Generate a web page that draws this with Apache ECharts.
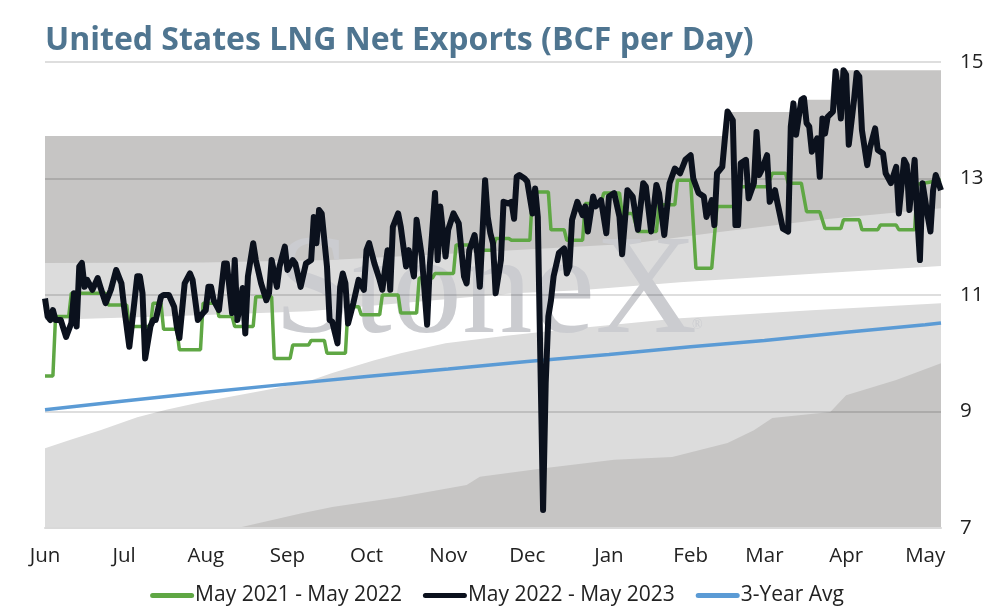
<!DOCTYPE html>
<html>
<head>
<meta charset="utf-8">
<script src="https://cdn.jsdelivr.net/npm/echarts@6/dist/echarts.min.js"></script>
<style>
  html, body { margin: 0; padding: 0; background: #fff; }
  #chart { width: 994px; height: 613px; }
</style>
</head>
<body>
<div id="chart"></div>
<script>
// x = day number counted from 1 Jun
var monthDays = [0, 30, 61, 92, 122, 153, 183, 214, 245, 273, 304, 334]
var monthNames = ['Jun', 'Jul', 'Aug', 'Sep', 'Oct', 'Nov', 'Dec', 'Jan', 'Feb', 'Mar', 'Apr', 'May']
var yTicks = [7, 9, 11, 13, 15]

// shaded ranges (upper and lower bands)
var upperBandTop = [[0, 13.73], [257, 13.73], [258, 14.14], [287, 14.14], [288, 14.35], [298, 14.35], [299, 14.86], [340, 14.86]]
var upperBandMid = [[0, 11.55], [60, 11.56], [108, 11.6], [150, 11.7], [222, 11.88], [256, 12.08], [294, 12.29], [340, 12.49]]
var upperBandLow = [[0, 10.57], [50, 10.64], [100, 10.72], [140, 10.88], [178, 11.03], [203, 11.08], [241, 11.22], [290, 11.36], [340, 11.5]]
var lowerBandTop = [[0, 8.37], [10, 8.52], [21, 8.68], [35, 8.9], [46, 9.03], [59, 9.16], [84, 9.37], [100, 9.52], [109, 9.66], [125, 9.88], [135, 10.0], [152, 10.17], [175, 10.3], [200, 10.42], [241, 10.6], [291, 10.74], [340, 10.86]]
var lowerBandMid = [[0, 7.0], [73, 7.0], [97, 7.25], [109, 7.36], [134, 7.53], [160, 7.74], [165, 7.88], [190, 8.03], [216, 8.17], [238, 8.22], [259, 8.46], [269, 8.68], [276, 8.89], [298, 8.99], [304, 9.28], [323, 9.54], [340, 9.83]]

var avg3yr = [[0, 9.03], [30, 9.18], [61, 9.33], [92, 9.47], [122, 9.6], [153, 9.73], [183, 9.86], [214, 9.98], [245, 10.11], [273, 10.22], [304, 10.36], [334, 10.49], [340, 10.52]]

var season2122 = [
  [0, 9.61], [3, 9.61], [4, 10.63], [9, 10.63], [10, 11.03], [23, 11.03], [24, 10.83], [31, 10.83], [32, 10.46],
  [40, 10.46], [41, 10.86], [44, 10.86], [45, 10.41], [50, 10.41], [51, 10.06], [59, 10.06], [60, 10.86], [65, 10.86],
  [66, 10.63], [71, 10.63], [72, 10.46], [79, 10.46], [80, 10.97], [86, 10.97], [87, 9.91], [93, 9.91], [94, 10.14],
  [100, 10.14], [101, 10.22], [106, 10.22], [107, 10.0], [114, 10.0], [115, 10.8], [119, 10.8], [120, 10.66], [127, 10.66],
  [128, 11.0], [134, 11.0], [135, 10.69], [141, 10.69], [142, 11.29], [147, 11.29], [148, 11.37], [155, 11.37], [156, 11.86],
  [165, 11.86], [166, 11.77], [170, 11.77], [171, 11.97], [176, 11.97], [177, 11.94], [184, 11.94], [185, 12.77], [191, 12.77],
  [192, 12.12], [197, 12.12], [198, 11.94], [204, 11.94], [205, 12.57], [211, 12.57], [212, 12.75], [218, 12.75], [219, 12.4],
  [223, 12.4], [225, 12.09], [232, 12.09], [233, 12.55], [239, 12.55], [240, 12.97], [245, 12.97], [247, 11.46], [253, 11.46],
  [255, 12.52], [262, 12.52], [263, 12.86], [274, 12.86], [276, 13.09], [281, 13.09], [282, 12.92], [287, 12.92], [289, 12.43],
  [294, 12.43], [296, 12.14], [302, 12.14], [303, 12.29], [309, 12.29], [310, 12.12], [316, 12.12], [317, 12.2], [323, 12.2],
  [324, 12.12], [330, 12.12], [331, 12.9], [340, 12.97]
]

var season2223 = [
  [0, 10.94], [1, 10.63], [2, 10.57], [3, 10.74], [4, 10.57], [6, 10.57], [8, 10.28], [10, 10.52], [11, 11.03], [12, 10.46],
  [13, 11.49], [14, 11.55], [15, 11.14], [16, 11.26], [18, 11.09], [20, 11.29], [21, 11.14], [23, 10.86], [25, 11.09],
  [27, 11.43], [29, 11.2], [30, 10.8], [32, 10.11], [35, 11.32], [36, 11.32], [37, 11.03], [38, 9.91], [40, 10.46],
  [41, 10.57], [42, 10.57], [44, 10.97], [45, 11.0], [47, 11.0], [49, 10.8], [50, 10.46], [51, 10.26], [53, 11.2],
  [55, 11.37], [56, 11.26], [58, 10.57], [60, 10.69], [61, 10.74], [62, 11.14], [63, 11.14], [64, 10.91], [66, 10.74],
  [68, 11.54], [69, 11.54], [71, 10.69], [72, 11.6], [73, 10.57], [75, 11.12], [76, 10.34], [77, 11.32], [79, 11.89],
  [80, 11.6], [82, 11.2], [84, 10.91], [85, 11.03], [86, 11.6], [88, 11.14], [89, 11.49], [91, 11.83], [92, 11.43],
  [94, 11.6], [95, 11.54], [97, 11.14], [99, 11.54], [101, 11.6], [102, 12.34], [103, 11.89], [104, 12.46], [105, 12.4],
  [107, 11.49], [108, 10.57], [109, 10.54], [111, 10.17], [112, 11.14], [113, 11.37], [114, 11.2], [115, 10.51],
  [117, 10.86], [119, 11.26], [121, 11.09], [122, 11.77], [123, 11.89], [125, 11.54], [127, 11.26], [128, 11.09],
  [130, 11.77], [131, 11.09], [132, 12.17], [134, 12.4], [135, 12.17], [137, 11.49], [138, 11.77], [140, 11.32],
  [141, 12.29], [143, 11.66], [145, 10.49], [146, 11.49], [147, 12.12], [148, 12.75], [149, 11.6], [150, 12.52],
  [152, 11.66], [153, 12.12], [155, 12.4], [157, 12.23], [159, 11.32], [160, 11.2], [161, 11.77], [163, 12.03],
  [164, 11.72], [165, 11.14], [167, 12.97], [168, 12.34], [169, 12.06], [170, 11.89], [171, 11.03], [173, 11.6],
  [174, 12.6], [176, 12.57], [177, 12.6], [178, 12.31], [179, 13.03], [180, 13.06], [182, 13.0], [183, 12.95],
  [185, 12.4], [186, 12.83], [187, 12.34], [189, 7.31], [190, 9.49], [191, 10.63], [192, 10.91], [193, 11.32],
  [195, 11.72], [197, 11.8], [198, 11.37], [199, 11.49], [200, 12.29], [202, 12.6], [204, 12.37], [205, 12.52],
  [206, 12.09], [208, 12.69], [209, 12.52], [211, 12.63], [213, 12.06], [214, 12.69], [216, 12.75], [218, 12.34],
  [219, 11.7], [221, 12.8], [223, 12.69], [225, 12.12], [227, 12.92], [228, 12.86], [230, 12.09], [232, 12.89],
  [233, 12.75], [235, 12.03], [237, 12.92], [239, 13.17], [241, 13.09], [243, 13.32], [245, 13.4], [246, 13.0],
  [248, 12.75], [250, 12.69], [251, 12.34], [253, 12.63], [254, 12.2], [255, 13.09], [257, 13.2], [258, 13.69],
  [259, 14.15], [261, 14.0], [262, 12.2], [263, 12.2], [264, 13.26], [266, 13.32], [267, 12.66], [269, 12.92],
  [270, 13.8], [271, 13.06], [272, 13.15], [274, 13.4], [275, 12.6], [277, 12.8], [278, 12.57], [280, 12.14],
  [282, 12.09], [283, 13.89], [284, 14.29], [285, 13.75], [287, 14.35], [288, 14.38], [289, 13.95], [290, 13.89],
  [291, 13.46], [293, 13.69], [294, 13.03], [295, 14.03], [296, 13.77], [297, 14.06], [299, 14.15], [300, 14.84],
  [301, 14.52], [302, 14.03], [303, 14.86], [304, 14.78], [305, 13.58], [307, 14.35], [308, 14.81], [309, 14.75],
  [310, 13.83], [312, 13.23], [313, 13.52], [315, 13.86], [316, 13.49], [318, 13.43], [319, 13.09], [321, 12.92],
  [323, 13.2], [324, 12.4], [326, 13.32], [327, 13.23], [328, 12.46], [330, 13.32], [331, 12.34], [332, 11.6],
  [333, 12.92], [335, 12.34], [336, 12.09], [337, 12.8], [338, 13.06], [340, 12.8]
]

var DARK = '#c6c5c4'
var LIGHT = '#dcdcdc'
var FONT = '"Open Sans"'
var PILL = 'path://M2.5,0H41.5A2.5,2.5,0,0,1,41.5,5H2.5A2.5,2.5,0,0,1,2.5,0Z'

function band (data, color) {
  return {
    type: 'line', data: data, symbol: 'none', silent: true, z: 1,
    lineStyle: { width: 0 },
    areaStyle: { color: color, opacity: 1, origin: 'start' }
  }
}

var chart = echarts.init(document.getElementById('chart'))
chart.setOption({
  animation: false,
  backgroundColor: '#fff',
  title: {
    text: 'United States LNG Net Exports (BCF per Day)',
    left: 40, top: 20,
    textStyle: { fontFamily: FONT, fontWeight: 700, fontSize: 32, color: '#4f7590' }
  },
  grid: { left: 45, right: 53, top: 62, bottom: 85 },
  legend: {
    data: ['May 2021 - May 2022', 'May 2022 - May 2023', '3-Year Avg'],
    bottom: 2, left: 'center',
    icon: PILL, itemWidth: 44, itemHeight: 5, itemGap: 21,
    textStyle: { fontFamily: FONT, fontSize: 21, color: '#222', padding: [0, 0, 0, -4] }
  },
  xAxis: {
    type: 'value', min: 0, max: 340, z: 4,
    axisLine: { show: true, lineStyle: { color: '#d9d9d9', width: 2 } },
    axisTick: { show: false },
    splitLine: { show: false },
    axisLabel: {
      customValues: monthDays,
      margin: 18,
      fontFamily: FONT, fontSize: 20.5, color: '#222',
      formatter: function (v) { return monthNames[monthDays.indexOf(v)] || '' }
    }
  },
  yAxis: {
    type: 'value', position: 'right', min: yTicks[0], max: yTicks[yTicks.length - 1], interval: 2, z: 3,
    axisLine: { show: false }, axisTick: { show: false },
    axisLabel: { margin: 19, fontFamily: FONT, fontSize: 20.5, color: '#222' },
    splitLine: { show: true, lineStyle: { color: 'rgba(0,0,0,0.13)', width: 2 } }
  },
  graphic: {
    elements: [
      {
        type: 'text', left: 274, top: 224, z: 3, silent: true,
        style: { text: 'StoneX', font: '141px "Liberation Serif"', fill: '#cbccd0' }
      },
      {
        type: 'text', left: 692, top: 318, z: 3, silent: true,
        style: { text: '®', font: '14px "Liberation Serif"', fill: '#cbccd0' }
      }
    ]
  },
  series: [
    band(upperBandTop, DARK),
    band(upperBandMid, LIGHT),
    band(upperBandLow, '#ffffff'),
    band(lowerBandTop, LIGHT),
    band(lowerBandMid, DARK),
    {
      name: '3-Year Avg', type: 'line', data: avg3yr, symbol: 'none', z: 5,
      lineStyle: { color: '#5b9bd5', width: 3.5 }, itemStyle: { color: '#5b9bd5' }
    },
    {
      name: 'May 2021 - May 2022', type: 'line', data: season2122, symbol: 'none', z: 6,
      lineStyle: { color: '#5fa744', width: 3.5 }, itemStyle: { color: '#5fa744' }
    },
    {
      name: 'May 2022 - May 2023', type: 'line', data: season2223, symbol: 'none', z: 7,
      lineStyle: { color: '#0b111d', width: 6, join: 'round' }, itemStyle: { color: '#0b111d' }
    }
  ]
})
</script>
</body>
</html>
